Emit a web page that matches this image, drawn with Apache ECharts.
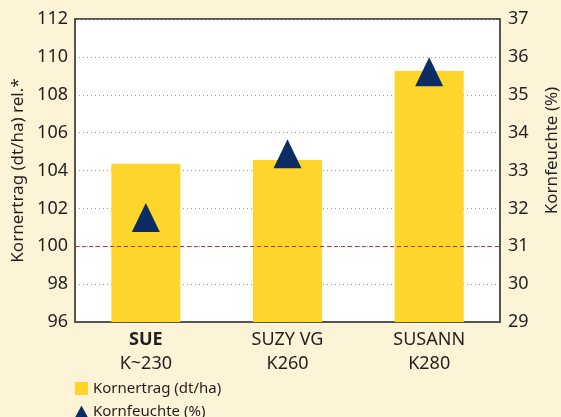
<!DOCTYPE html>
<html>
<head>
<meta charset="utf-8">
<script src="https://cdn.jsdelivr.net/npm/echarts@6/dist/echarts.min.js"></script>
<style>
  html, body { margin: 0; padding: 0; background: #fdf3d7; }
  #main { width: 561px; height: 417px; }
</style>
</head>
<body>
<div id="main"></div>
<script>
var sorten = ['SUE', 'SUZY VG', 'SUSANN'];
var reifezahl = ['K~230', 'K260', 'K280'];
var kornertrag = [104.35, 104.55, 109.25];
var kornfeuchte = [31.76, 33.44, 35.61];
var ertragTicks = [96, 112, 2];
var feuchteTicks = [29, 37, 1];

var myChart = echarts.init(document.getElementById('main'));

var font = 'Noto Sans';
var txt = '#231f20';
var legendText = { fontSize: 15, color: txt, fontFamily: font };

var option = {
  backgroundColor: '#fdf3d7',
  textStyle: { fontFamily: font },
  grid: {
    left: 75, right: 61, top: 19, bottom: 95,
    outerBoundsMode: 'none',
    show: true, backgroundColor: '#ffffff',
    borderWidth: 2, borderColor: '#555'
  },
  legend: [
    {
      left: 70, top: 376,
      itemWidth: 13, itemHeight: 13,
      textStyle: legendText,
      data: [{ name: 'Kornertrag (dt/ha)', icon: 'rect' }]
    },
    {
      left: 70, top: 399,
      itemWidth: 13, itemHeight: 12,
      textStyle: legendText,
      data: [{ name: 'Kornfeuchte (%)', icon: 'triangle' }]
    }
  ],
  xAxis: {
    type: 'category',
    data: sorten,
    axisLine: { lineStyle: { color: '#555', width: 2 } },
    axisTick: { show: false },
    axisLabel: {
      margin: 6,
      formatter: function (v, i) {
        var top = i === 0 ? '{b|' + v + '}' : '{n|' + v + '}';
        return top + '\n{n|' + reifezahl[i] + '}';
      },
      rich: {
        b: { fontSize: 18, fontWeight: 'bold', color: txt, lineHeight: 24, fontFamily: font },
        n: { fontSize: 18, color: txt, lineHeight: 24, fontFamily: font }
      }
    }
  },
  yAxis: [
    {
      type: 'value',
      min: ertragTicks[0], max: ertragTicks[1], interval: ertragTicks[2],
      name: 'Kornertrag (dt/ha) rel.*',
      nameLocation: 'middle', nameGap: 47, nameRotate: 90,
      nameTextStyle: { fontSize: 17, color: txt, fontFamily: font },
      axisLine: { show: true, lineStyle: { color: '#555', width: 2 } },
      axisTick: { show: false },
      axisLabel: { fontSize: 18, color: txt, margin: 7 },
      splitLine: { lineStyle: { color: '#999', type: [1, 3] } }
    },
    {
      type: 'value',
      min: feuchteTicks[0], max: feuchteTicks[1], interval: feuchteTicks[2],
      name: 'Kornfeuchte (%)',
      nameLocation: 'middle', nameGap: 44, nameRotate: 90,
      nameTextStyle: { fontSize: 17, color: txt, fontFamily: font, padding: [0, 0, 0, 40] },
      axisLine: { show: true, lineStyle: { color: '#555', width: 2 } },
      axisTick: { show: false },
      axisLabel: { fontSize: 18, color: txt, margin: 8 },
      splitLine: { show: false }
    }
  ],
  series: [
    {
      name: 'Kornertrag (dt/ha)',
      type: 'bar',
      yAxisIndex: 0,
      barWidth: 69,
      itemStyle: { color: '#fdd52b' },
      data: kornertrag,
      markLine: {
        silent: true,
        symbol: 'none',
        label: { show: false },
        lineStyle: { color: '#d42a2a', type: [4, 3], width: 1.2 },
        data: [{ yAxis: 100 }]
      }
    },
    {
      name: 'Kornfeuchte (%)',
      type: 'scatter',
      yAxisIndex: 1,
      symbol: 'triangle',
      symbolSize: [28, 29],
      itemStyle: { color: '#0b2d63', opacity: 1 },
      data: kornfeuchte
    }
  ]
};

myChart.setOption(option);
</script>
</body>
</html>
